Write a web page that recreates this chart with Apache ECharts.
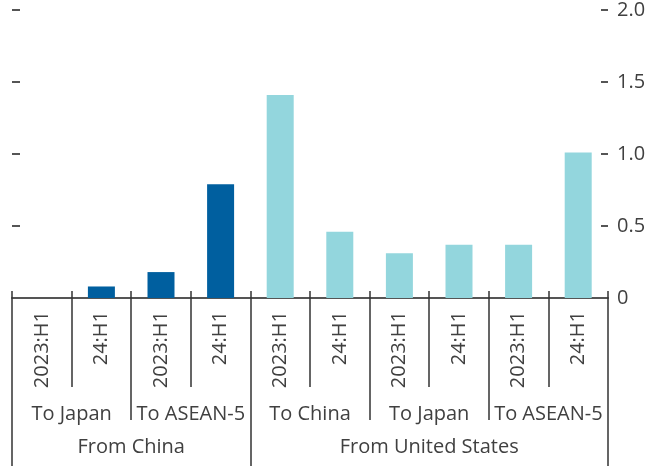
<!DOCTYPE html>
<html>
<head>
<meta charset="utf-8">
<script src="https://cdn.jsdelivr.net/npm/echarts@6/dist/echarts.min.js"></script>
<style>
html, body { margin: 0; padding: 0; background: #fff; }
#chart { width: 656px; height: 466px; }
</style>
</head>
<body>
<div id="chart"></div>
<script>
// values
var periods = ['2023:H1', '24:H1', '2023:H1', '24:H1', '2023:H1', '24:H1', '2023:H1', '24:H1', '2023:H1', '24:H1'];
var destinations = ['To Japan', 'To ASEAN-5', 'To China', 'To Japan', 'To ASEAN-5'];
var origins = ['From China', 'From United States'];
var originSpans = [4, 6];   // how many bars each origin covers
var values = [0, 0.08, 0.18, 0.79, 1.41, 0.46, 0.31, 0.37, 0.37, 1.01];

var darkBlue = '#005f9f';
var teal = '#93d6dd';
var txt = '#404040';
var font = 'Open Sans';
var fsize = 20;

// boundary points 0..10, used by the two group levels
var points = [];
for (var i = 0; i <= periods.length; i++) points.push('b' + i);

var destLabelAt = {};
var destTickAt = {0: true};
destinations.forEach(function (d, i) {
    destLabelAt[2 * i + 1] = d;
    destTickAt[2 * i + 2] = true;
});

var originLabelAt = {};
var originTickAt = {0: true};
var start = 0;
origins.forEach(function (o, i) {
    originLabelAt[start + originSpans[i] / 2] = o;
    start += originSpans[i];
    originTickAt[start] = true;
});

var barData = values.map(function (v, i) {
    return { value: v, itemStyle: { color: i < originSpans[0] ? darkBlue : teal } };
});

var myChart = echarts.init(document.getElementById('chart'));
var option = {
    animation: false,
    grid: { left: 12, right: 48, top: 10, bottom: 168 },
    xAxis: [
        {   // periods
            type: 'category', position: 'bottom', offset: -7,
            data: periods,
            axisLine: { show: false },
            axisTick: { show: true, interval: 0, length: 96, lineStyle: { color: '#333', width: 1.5 } },
            axisLabel: { interval: 0, rotate: 90, margin: 20, color: txt, fontSize: fsize, fontFamily: font }
        },
        {   // destinations
            type: 'category', position: 'bottom', offset: -7, boundaryGap: false,
            data: points,
            axisLine: { show: false },
            axisTick: { show: true, length: 129, lineStyle: { color: '#333', width: 1.5 },
                interval: function (idx) { return !!destTickAt[idx]; } },
            axisLabel: { margin: 113, color: txt, fontSize: fsize, fontFamily: font,
                interval: function (idx) { return destLabelAt[idx] !== undefined; },
                formatter: function (v, idx) { return destLabelAt[idx] || ''; } }
        },
        {   // origins
            type: 'category', position: 'bottom', offset: -7, boundaryGap: false,
            data: points,
            axisLine: { show: false },
            axisTick: { show: true, length: 180, lineStyle: { color: '#333', width: 1.5 },
                interval: function (idx) { return !!originTickAt[idx]; } },
            axisLabel: { margin: 146, color: txt, fontSize: fsize, fontFamily: font,
                interval: function (idx) { return originLabelAt[idx] !== undefined; },
                formatter: function (v, idx) { return originLabelAt[idx] || ''; } }
        },
        {   // baseline
            type: 'category', position: 'bottom', data: periods,
            axisLine: { show: true, lineStyle: { color: '#555', width: 2 } },
            axisTick: { show: false }, axisLabel: { show: false }
        }
    ],
    yAxis: [
        {
            type: 'value', position: 'left', min: 0, max: 2, interval: 0.5,
            axisLine: { show: false },
            axisTick: { show: true, inside: true, length: 8, lineStyle: { color: '#555', width: 2 } },
            axisLabel: { show: false },
            splitLine: { show: false }
        },
        {
            type: 'value', position: 'right', min: 0, max: 2, interval: 0.5,
            axisLine: { show: false },
            axisTick: { show: true, inside: true, length: 7, lineStyle: { color: '#555', width: 2 } },
            axisLabel: { margin: 9, color: txt, fontSize: fsize, fontFamily: font,
                formatter: function (v) { return v === 0 ? '0' : v.toFixed(1); } },
            splitLine: { show: false }
        }
    ],
    series: [
        {
            type: 'bar', xAxisIndex: 0, yAxisIndex: 1,
            barWidth: 27,
            data: barData
        }
    ]
};
myChart.setOption(option);
</script>
</body>
</html>
